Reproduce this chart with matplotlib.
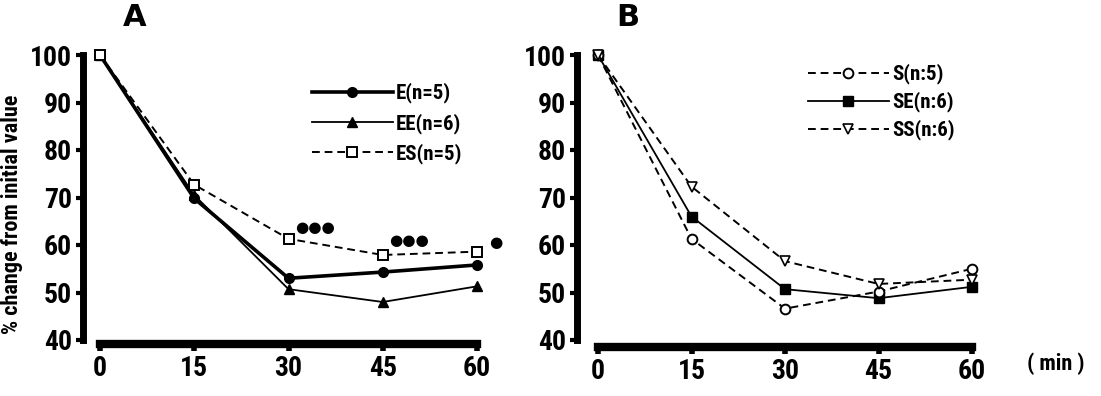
import matplotlib.pyplot as plt

plt.rcParams['font.family'] = ['Roboto Condensed', 'Archivo Narrow',
                               'Liberation Sans Narrow', 'DejaVu Sans']

minutes = [0, 15, 30, 45, 60]

# panel A
e_vals = [100, 69.8, 53.0, 54.3, 55.8]
ee_vals = [100, 70.5, 50.7, 48.0, 51.3]
es_vals = [100, 72.7, 61.3, 57.9, 58.6]

# panel B
s_vals = [100, 61.3, 46.6, 50.2, 55.0]
se_vals = [100, 66.0, 50.7, 48.8, 51.2]
ss_vals = [100, 72.3, 56.6, 51.8, 52.7]

# significance marks (x, y, text) in panel A
sig_marks = [(31.0, 63.6, '●●●'), (46.0, 61.0, '●●●'), (62.0, 60.6, '●')]

W, H = 1101, 396
fig = plt.figure(figsize=(W / 100, H / 100), dpi=100)


def make_axes(px_left, px_right, px0, px60, bar_y):
    # pixel geometry -> axes box + limits
    py_top, py_bot = 48, 352
    y100, y40 = 55, 340
    sx = (px60 - px0) / 60
    sy = (y40 - y100) / 60
    ax = fig.add_axes([px_left / W, 1 - py_bot / H,
                       (px_right - px_left) / W, (py_bot - py_top) / H])
    ax.set_xlim((px_left - px0) / sx, 60 + (px_right - px60) / sx)
    ax.set_ylim(40 - (py_bot - y40) / sy, 100 + (y100 - py_top) / sy)
    for s in ['top', 'right']:
        ax.spines[s].set_visible(False)
    ax.spines['left'].set_bounds(40, 100)
    ax.spines['left'].set_linewidth(5)
    ax.spines['bottom'].set_position(('data', bar_y))
    ax.spines['bottom'].set_bounds(0, 60)
    ax.spines['bottom'].set_linewidth(6)
    ax.set_xticks(minutes)
    ax.set_yticks(range(40, 101, 10))
    ax.tick_params(axis='y', length=5, width=3, pad=3, labelsize=20)
    ax.tick_params(axis='x', length=5, width=4, pad=3, labelsize=20)
    for lab in ax.get_xticklabels() + ax.get_yticklabels():
        lab.set_fontweight('bold')
    ax.patch.set_alpha(0)
    return ax


axA = make_axes(83, 495, 100, 477, 39.2)
axB = make_axes(577, 990, 598, 972, 38.6)

# panel A lines
axA.plot(minutes, e_vals, '-', color='black', lw=2.6, marker='o', ms=7,
         label='E(n=5)', zorder=4)
axA.plot(minutes, ee_vals, '-', color='black', lw=1.3, marker='^', ms=7,
         label='EE(n=6)', zorder=3)
axA.plot(minutes, es_vals, '--', color='black', lw=1.4, marker='s', ms=7,
         mfc='white', mew=1.4, dashes=(4, 2.5), label='ES(n=5)', zorder=5)

for x, y, t in sig_marks:
    axA.text(x, y, t, fontsize=11, ha='left', va='center',
             family='DejaVu Sans', clip_on=False)

# panel B lines
axB.plot(minutes, s_vals, '--', color='black', lw=1.4, marker='o', ms=7,
         mfc='white', mew=1.4, dashes=(4, 2.5), label='S(n:5)', zorder=4)
axB.plot(minutes, se_vals, '-', color='black', lw=1.3, marker='s', ms=7,
         label='SE(n:6)', zorder=3)
axB.plot(minutes, ss_vals, '--', color='black', lw=1.4, marker='v', ms=7,
         mfc='white', mew=1.2, dashes=(4, 2.5), label='SS(n:6)', zorder=5)

axA.legend(loc='upper left', bbox_to_anchor=(293 / W, 1 - 64 / H),
           bbox_transform=fig.transFigure, frameon=False,
           handlelength=3.9, handletextpad=0.15, labelspacing=0.45,
           prop={'weight': 'bold', 'size': 15})
axB.legend(loc='upper left', bbox_to_anchor=(789 / W, 1 - 45 / H),
           bbox_transform=fig.transFigure, frameon=False,
           handlelength=3.9, handletextpad=0.15, labelspacing=0.35,
           prop={'weight': 'bold', 'size': 15})

fig.text(135 / W, 1 - 18 / H, 'A', fontsize=22, fontweight='bold',
         family='DejaVu Sans', ha='center', va='center')
fig.text(628 / W, 1 - 18 / H, 'B', fontsize=22, fontweight='bold',
         family='DejaVu Sans', ha='center', va='center')
fig.text(12 / W, 1 - 214 / H, '% change from initial value', rotation=90,
         fontsize=16, fontweight='bold', ha='center', va='center')
fig.text(1056 / W, 1 - 364 / H, '( min )', fontsize=16, fontweight='bold',
         ha='center', va='center')

fig.savefig('out.png', dpi=100)
